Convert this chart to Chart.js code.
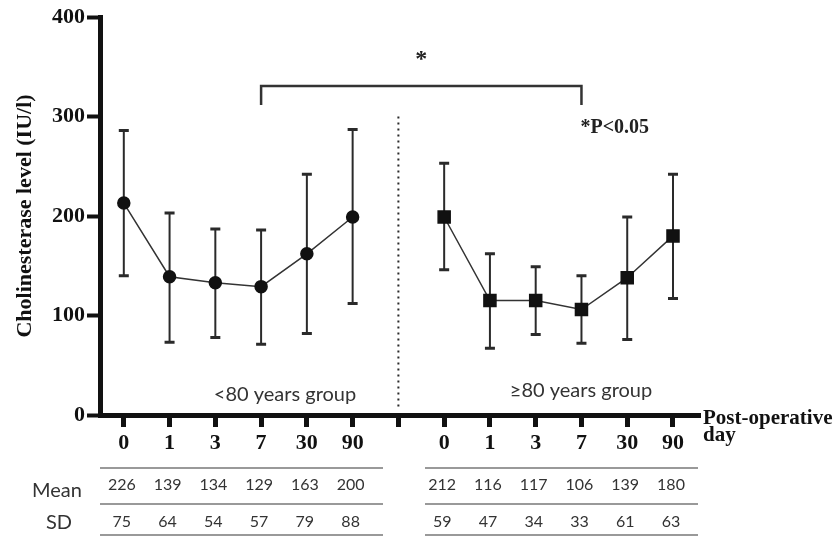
<!DOCTYPE html>
<html>
<head>
<meta charset="utf-8">
<script src="https://cdn.jsdelivr.net/npm/chart.js@4"></script>
<style>
  html, body { margin: 0; padding: 0; background: #fff; }
  #wrap { width: 835px; height: 536px; position: relative; }
</style>
</head>
<body>
<div id="wrap"><canvas id="chart"></canvas></div>
<script>
// post-operative days (x categories)
var days = ['0', '1', '3', '7', '30', '90'];
// plotted values
var under80 = [213, 139, 133, 129, 162, 199];
var under80Upper = [286, 203, 187, 186, 242, 287];
var under80Lower = [140, 73, 78, 71, 82, 112];
var over80 = [199, 115, 115, 106, 138, 180];
var over80Upper = [253, 162, 149, 140, 199, 242];
var over80Lower = [146, 67, 81, 72, 76, 117];
// table below the axis
var under80Mean = [226, 139, 134, 129, 163, 200];
var under80SD = [75, 64, 54, 57, 79, 88];
var over80Mean = [212, 116, 117, 106, 139, 180];
var over80SD = [59, 47, 34, 33, 61, 63];
var yTicks = [0, 100, 200, 300, 400];

var GAP = 6; // slot between the two groups
function leftX(i) { return i; }
function rightX(i) { return i + GAP + 1; }

var serif = '"Liberation Serif", "DejaVu Serif", serif';
var sans = 'Lato, "Open Sans", sans-serif';

var extras = {
  id: 'extras',
  beforeDatasetsDraw: function (chart) {
    var ctx = chart.ctx, xs = chart.scales.x, ys = chart.scales.y;
    ctx.save();
    ctx.strokeStyle = '#2a2a2a';
    function bars(upper, lower, fx) {
      for (var i = 0; i < upper.length; i++) {
        var px = xs.getPixelForValue(fx(i));
        var t = ys.getPixelForValue(upper[i]), b = ys.getPixelForValue(lower[i]);
        ctx.lineWidth = 2;
        ctx.beginPath(); ctx.moveTo(px, t); ctx.lineTo(px, b); ctx.stroke();
        ctx.lineWidth = 3;
        ctx.beginPath();
        ctx.moveTo(px - 5, t); ctx.lineTo(px + 5, t);
        ctx.moveTo(px - 5, b); ctx.lineTo(px + 5, b);
        ctx.stroke();
      }
    }
    bars(under80Upper, under80Lower, leftX);
    bars(over80Upper, over80Lower, rightX);

    // dotted separator
    var sx = xs.getPixelForValue(GAP);
    ctx.lineWidth = 2;
    ctx.setLineDash([2, 4]);
    ctx.beginPath(); ctx.moveTo(sx, ys.getPixelForValue(300)); ctx.lineTo(sx, ys.getPixelForValue(5)); ctx.stroke();
    ctx.setLineDash([]);

    // significance bracket between day 7 points
    var bx1 = xs.getPixelForValue(leftX(3)), bx2 = xs.getPixelForValue(rightX(3));
    ctx.lineWidth = 2.5;
    ctx.strokeStyle = '#333';
    ctx.beginPath();
    ctx.moveTo(bx1, 105); ctx.lineTo(bx1, 86); ctx.lineTo(bx2, 86); ctx.lineTo(bx2, 105);
    ctx.stroke();
    ctx.fillStyle = '#222';
    ctx.font = 'bold 24px ' + serif;
    ctx.textAlign = 'center'; ctx.textBaseline = 'middle';
    ctx.fillText('*', (bx1 + bx2) / 2, 60);
    ctx.font = 'bold 20px ' + serif;
    ctx.textAlign = 'left';
    ctx.fillText('*P<0.05', bx2 - 1, 128);

    // group labels
    ctx.font = '20px ' + sans;
    ctx.fillStyle = '#333';
    ctx.textAlign = 'center';
    ctx.fillText('<80 years group', 285, 395);
    ctx.fillText('\u226580 years group', 581, 391);

    // axis note
    ctx.font = 'bold 21px ' + serif;
    ctx.fillStyle = '#111';
    ctx.textAlign = 'left';
    ctx.fillText('Post-operative', 703, 419);
    ctx.fillText('day', 703, 436);

    // table
    var lines = [468, 504, 535];
    ctx.strokeStyle = '#777';
    ctx.lineWidth = 1.5;
    lines.forEach(function (ly) {
      ctx.beginPath(); ctx.moveTo(100, ly); ctx.lineTo(383, ly); ctx.stroke();
      ctx.beginPath(); ctx.moveTo(425, ly); ctx.lineTo(698, ly); ctx.stroke();
    });
    ctx.fillStyle = '#333';
    ctx.font = '20px ' + sans;
    ctx.textAlign = 'left';
    ctx.fillText('Mean', 32, 491);
    ctx.fillText('SD', 46, 523);
    ctx.font = '16px ' + sans;
    ctx.textAlign = 'center';
    for (var i = 0; i < days.length; i++) {
      ctx.fillText(String(under80Mean[i]), xs.getPixelForValue(leftX(i)) - 2, 485);
      ctx.fillText(String(under80SD[i]), xs.getPixelForValue(leftX(i)) - 2, 522);
      ctx.fillText(String(over80Mean[i]), xs.getPixelForValue(rightX(i)) - 2, 485);
      ctx.fillText(String(over80SD[i]), xs.getPixelForValue(rightX(i)) - 2, 522);
    }
    ctx.restore();
  }
};

new Chart(document.getElementById('chart'), {
  type: 'scatter',
  data: {
    datasets: [
      {
        label: '<80 years group',
        data: under80.map(function (v, i) { return { x: leftX(i), y: v }; }),
        showLine: true,
        borderColor: '#333',
        borderWidth: 1.5,
        pointStyle: 'circle',
        pointRadius: 6,
        pointBackgroundColor: '#111',
        pointBorderColor: '#111'
      },
      {
        label: '\u226580 years group',
        data: over80.map(function (v, i) { return { x: rightX(i), y: v }; }),
        showLine: true,
        borderColor: '#333',
        borderWidth: 1.5,
        pointStyle: 'rect',
        pointRadius: 8.5,
        pointBackgroundColor: '#111',
        pointBorderColor: '#111'
      }
    ]
  },
  options: {
    responsive: true,
    maintainAspectRatio: false,
    animation: false,
    layout: { padding: { left: 0, top: 17, right: 135, bottom: 0 } },
    plugins: { legend: { display: false }, tooltip: { enabled: false } },
    scales: {
      x: {
        type: 'linear',
        min: -0.52,
        max: 12.59,
        afterBuildTicks: function (scale) {
          var t = [];
          for (var i = 0; i <= 2 * days.length; i++) t.push({ value: i });
          scale.ticks = t;
        },
        afterFit: function (scale) { scale.height = 121; },
        border: { display: true, color: '#111', width: 5 },
        grid: { drawOnChartArea: false, drawTicks: true, tickLength: 12, tickWidth: 5, tickColor: '#111' },
        ticks: {
          autoSkip: false,
          maxRotation: 0,
          padding: 3,
          color: '#111',
          font: { family: serif, size: 22, weight: 'bold' },
          callback: function (v) {
            if (v < GAP) return days[v];
            if (v > GAP) return days[v - GAP - 1];
            return '';
          }
        }
      },
      y: {
        min: 0,
        max: 400,
        afterBuildTicks: function (scale) {
          scale.ticks = yTicks.map(function (v) { return { value: v }; });
        },
        afterFit: function (scale) { scale.width = 100; },
        border: { display: true, color: '#111', width: 5 },
        grid: { drawOnChartArea: false, drawTicks: true, tickLength: 13, tickWidth: 4, tickColor: '#111' },
        ticks: {
          padding: 2,
          color: '#111',
          font: { family: serif, size: 22, weight: 'bold' }
        },
        title: {
          display: true,
          text: 'Cholinesterase level (IU/l)',
          color: '#111',
          font: { family: serif, size: 22, weight: 'bold' },
          padding: { top: 12, bottom: 0 }
        }
      }
    }
  },
  plugins: [extras]
});
</script>
</body>
</html>
